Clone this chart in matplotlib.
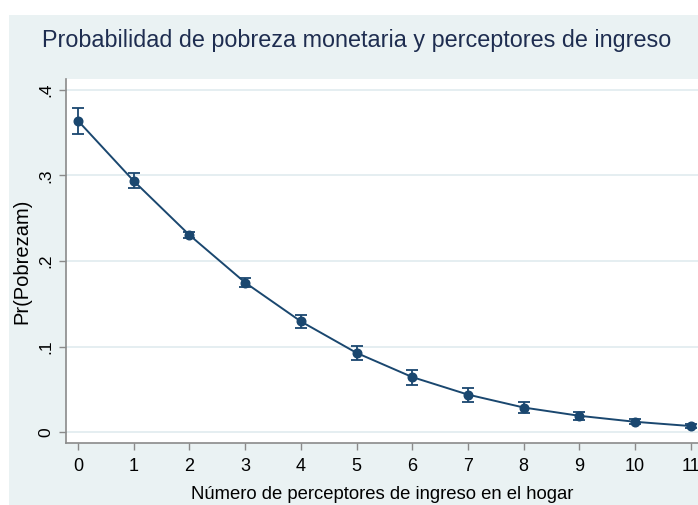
import matplotlib
matplotlib.use("Agg")
import matplotlib.pyplot as plt
from matplotlib.patches import Rectangle

perceptores = [0, 1, 2, 3, 4, 5, 6, 7, 8, 9, 10, 11]
prob = [0.364, 0.2936, 0.2304, 0.1748, 0.1294, 0.0926, 0.0643, 0.0438, 0.0287, 0.019, 0.012, 0.007]
ci_low = [0.349, 0.2850, 0.2270, 0.1700, 0.1217, 0.0837, 0.0554, 0.0352, 0.0217, 0.0145, 0.0090, 0.0050]
ci_high = [0.379, 0.3033, 0.2338, 0.1796, 0.1368, 0.1012, 0.0721, 0.0515, 0.0350, 0.0235, 0.0150, 0.0090]
yticks = [0, 0.1, 0.2, 0.3, 0.4]
yticklabels = ["0", ".1", ".2", ".3", ".4"]

plt.rcParams['font.family'] = ['Liberation Sans', 'DejaVu Sans']

W, H = 698, 505
fig = plt.figure(figsize=(W / 100, H / 100), dpi=100)
fig.patch.set_facecolor('white')
bg = '#eaf2f3'
fig.patches.append(Rectangle((9 / W, 0), 1 - 9 / W, 1 - 15 / H, transform=fig.transFigure,
                             facecolor=bg, edgecolor='none', zorder=-10))

ax = fig.add_axes([66 / W, 1 - 443 / H, 1 - 66 / W, (443 - 79) / H])
ax.set_zorder(1)
ax.set_facecolor('white')
col = '#1a476f'
yerr = [[p - l for p, l in zip(prob, ci_low)], [h - p for p, h in zip(prob, ci_high)]]
ax.errorbar(perceptores, prob, yerr=yerr, color=col, marker='o', markersize=6.2,
            linewidth=1.4, elinewidth=1.3, capsize=4, capthick=1.3, zorder=3, clip_on=False)

ax.set_xlim(-0.215, 11.13)
ax.set_ylim(-0.0128, 0.4128)
ax.set_yticks(yticks)
ax.set_yticklabels(yticklabels, rotation=90, va='center', fontsize=12.5)
ax.set_xticks(perceptores)
ax.set_xticklabels([str(p) for p in perceptores], fontsize=13)
ax.grid(axis='y', color='#e3edf0', linewidth=1.3)
ax.set_axisbelow(True)
for s in ['top', 'right']:
    ax.spines[s].set_visible(False)
for s in ['left', 'bottom']:
    ax.spines[s].set_color('#8a8a8a')
    ax.spines[s].set_linewidth(1.2)
ax.tick_params(axis='both', colors='#8a8a8a', labelcolor='black', length=5, width=1)
ax.tick_params(axis='y', pad=4)
ax.tick_params(axis='x', pad=6)

ax.set_ylabel('Pr(Pobrezam)', fontsize=14.5, labelpad=5)
ax.set_xlabel('Número de perceptores de ingreso en el hogar', fontsize=13.3, labelpad=8)

fig.text(357 / W, 1 - 40 / H, 'Probabilidad de pobreza monetaria y perceptores de ingreso',
         ha='center', va='center', fontsize=16.8, color='#1e2d50', zorder=5)

fig.savefig('out.png', dpi=100, facecolor=fig.get_facecolor())
